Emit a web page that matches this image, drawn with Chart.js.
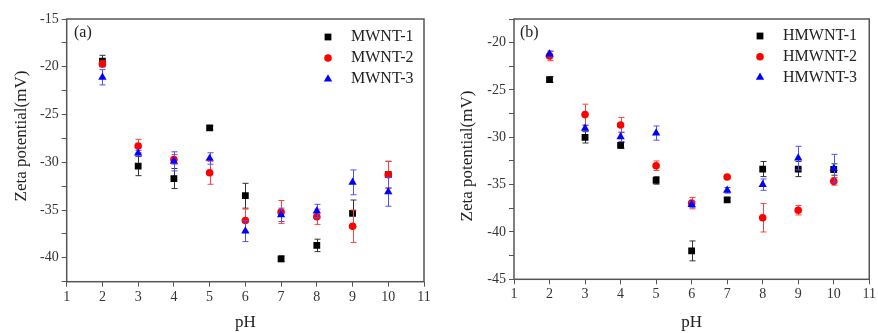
<!DOCTYPE html>
<html>
<head>
<meta charset="utf-8">
<script src="https://cdn.jsdelivr.net/npm/chart.js@4"></script>
<style>
  html, body { margin: 0; padding: 0; background: #fff; }
  #wrap { position: relative; width: 878px; height: 333px; }
  canvas { position: absolute; top: 0; }
</style>
</head>
<body>
<div id="wrap">
  <canvas id="chart-a" width="440" height="333" style="left:0"></canvas>
  <canvas id="chart-b" width="438" height="333" style="left:440px"></canvas>
</div>
<script>
const phValues = [2, 3, 4, 5, 6, 7, 8, 9, 10];

// panel (a)
const mwnt1 = [-19.4, -30.4, -31.7, -26.4, -33.5, -40.1, -38.7, -35.35, -31.3];
const mwnt1Err = [0.6, 1.0, 1.05, 0.2, 1.3, 0.3, 0.65, 1.4, 1.4];
const mwnt2 = [-19.7, -28.3, -29.7, -31.1, -36.1, -35.2, -35.7, -36.7, -31.3];
const mwnt2Err = [0.3, 0.7, 0.5, 1.2, 1.2, 1.2, 0.8, 1.7, 1.4];
const mwnt3 = [-21.1, -29.05, -29.9, -29.6, -37.2, -35.5, -35.1, -32.1, -33.1];
const mwnt3Err = [0.8, 0.3, 1.0, 0.6, 1.1, 0.7, 0.7, 1.3, 1.5];

// panel (b)
const hmwnt1 = [-23.9, -30.0, -30.85, -34.55, -42.0, -36.6, -33.35, -33.35, -33.4];
const hmwnt1Err = [0.3, 0.6, 0.3, 0.4, 1.05, 0.2, 0.8, 0.8, 0.6];
const hmwnt2 = [-21.4, -27.6, -28.7, -33.0, -36.95, -34.2, -38.5, -37.7, -34.65];
const hmwnt2Err = [0.5, 1.1, 0.8, 0.5, 0.6, 0.1, 1.5, 0.5, 0.4];
const hmwnt3 = [-21.2, -29.05, -29.95, -29.55, -37.1, -35.6, -35.0, -32.2, -33.3];
const hmwnt3Err = [0.3, 0.3, 0.5, 0.75, 0.3, 0.3, 0.6, 1.25, 1.5];

const xTicks = [1, 11];
const yRangeA = [-42.5, -15];
const yRangeB = [-45, -17.5];

const serif = "'Liberation Serif', 'DejaVu Serif', serif";

function makeSet(label, ys, errs, color, errColor, style, radius, order) {
  return {
    label: label,
    data: phValues.map((x, i) => ({ x: x, y: ys[i], err: errs[i] })),
    backgroundColor: color,
    borderColor: color,
    borderWidth: 0,
    pointStyle: style,
    pointRadius: radius,
    errorColor: errColor,
    order: order
  };
}

// error bars drawn under each dataset's markers
const errorBars = {
  id: 'errorBars',
  beforeDatasetDraw(chart, args) {
    const ds = chart.data.datasets[args.index];
    const { ctx, scales: { x, y } } = chart;
    ctx.save();
    ctx.strokeStyle = ds.errorColor;
    ctx.lineWidth = 1;
    ds.data.forEach(p => {
      const px = Math.round(x.getPixelForValue(p.x)) + 0.5;
      const top = y.getPixelForValue(p.y + p.err);
      const bot = y.getPixelForValue(p.y - p.err);
      ctx.beginPath();
      ctx.moveTo(px, top); ctx.lineTo(px, bot);
      ctx.moveTo(px - 3, top); ctx.lineTo(px + 3, top);
      ctx.moveTo(px - 3, bot); ctx.lineTo(px + 3, bot);
      ctx.stroke();
    });
    ctx.restore();
  }
};

// frame, panel label, legend and y title
const decor = {
  id: 'decor',
  beforeDatasetsDraw(chart, args, opts) {
    const { ctx, chartArea: a } = chart;
    ctx.save();
    ctx.strokeStyle = '#555';
    ctx.lineWidth = 1.5;
    ctx.strokeRect(a.left, a.top, a.right - a.left, a.bottom - a.top);
    ctx.restore();
  },
  afterDraw(chart, args, opts) {
    const { ctx } = chart;
    ctx.save();
    ctx.fillStyle = '#222';
    ctx.textBaseline = 'middle';
    ctx.font = '16px ' + serif;
    ctx.fillText(opts.panel, opts.panelX, opts.panelY);

    chart.data.datasets.forEach((ds, i) => {
      const yy = opts.legendY + i * opts.legendGap;
      ctx.fillStyle = ds.backgroundColor;
      Chart.helpers.drawPoint(ctx, { pointStyle: ds.pointStyle, radius: ds.pointRadius, rotation: 0, borderWidth: 0 }, opts.markerX, yy);
      ctx.fillStyle = '#222';
      ctx.fillText(ds.label, opts.textX, yy);
    });

    ctx.translate(opts.titleX, opts.titleY);
    ctx.rotate(-Math.PI / 2);
    ctx.textAlign = 'center';
    ctx.font = '17px ' + serif;
    ctx.fillText('Zeta potential(mV)', 0, 0);
    ctx.restore();
  }
};

function makeChart(id, datasets, yRange, yWidth, xHeight, padRight, decorOpts) {
  return new Chart(document.getElementById(id), {
    type: 'scatter',
    data: { datasets: datasets },
    plugins: [errorBars, decor],
    options: {
      responsive: false,
      animation: false,
      layout: { padding: { top: 19, right: padRight, left: 0, bottom: 0 } },
      plugins: {
        legend: { display: false },
        tooltip: { enabled: false },
        decor: decorOpts
      },
      scales: {
        x: {
          type: 'linear',
          min: xTicks[0],
          max: xTicks[1],
          border: { display: false },
          grid: { drawOnChartArea: false, drawTicks: true, tickLength: 5, color: '#555' },
          ticks: { stepSize: 1, color: '#333', padding: 2, font: { family: serif, size: 14 } },
          title: { display: true, text: 'pH', color: '#222', padding: { top: 0, bottom: 0 }, font: { family: serif, size: 17 } },
          afterFit(scale) { scale.height = xHeight; }
        },
        y: {
          type: 'linear',
          min: yRange[0],
          max: yRange[1],
          border: { display: false },
          grid: { drawOnChartArea: false, drawTicks: true, tickLength: 5, color: '#555' },
          ticks: {
            stepSize: 2.5,
            color: '#333',
            padding: 3,
            font: { family: serif, size: 14 },
            callback: v => (v % 5 === 0 ? v : '')
          },
          afterFit(scale) { scale.width = yWidth; }
        }
      }
    }
  });
}

makeChart('chart-a', [
  makeSet('MWNT-1', mwnt1, mwnt1Err, '#000000', '#333333', 'rect', 4.8, 3),
  makeSet('MWNT-2', mwnt2, mwnt2Err, '#ff0000', '#ff4040', 'circle', 3.8, 2),
  makeSet('MWNT-3', mwnt3, mwnt3Err, '#0000ff', '#5050ff', 'triangle', 4.8, 1)
], yRangeA, 66.7, 51.3, 16, {
  panel: '(a)', panelX: 74, panelY: 33,
  markerX: 328, textX: 351, legendY: 37, legendGap: 21,
  titleX: 21.5, titleY: 136
});

makeChart('chart-b', [
  makeSet('HMWNT-1', hmwnt1, hmwnt1Err, '#000000', '#333333', 'rect', 4.8, 3),
  makeSet('HMWNT-2', hmwnt2, hmwnt2Err, '#ff0000', '#ff4040', 'circle', 3.8, 2),
  makeSet('HMWNT-3', hmwnt3, hmwnt3Err, '#0000ff', '#5050ff', 'triangle', 4.8, 1)
], yRangeB, 74, 53.7, 8, {
  panel: '(b)', panelX: 80, panelY: 33,
  markerX: 320, textX: 343, legendY: 36, legendGap: 20.7,
  titleX: 28, titleY: 156
});
</script>
</body>
</html>
